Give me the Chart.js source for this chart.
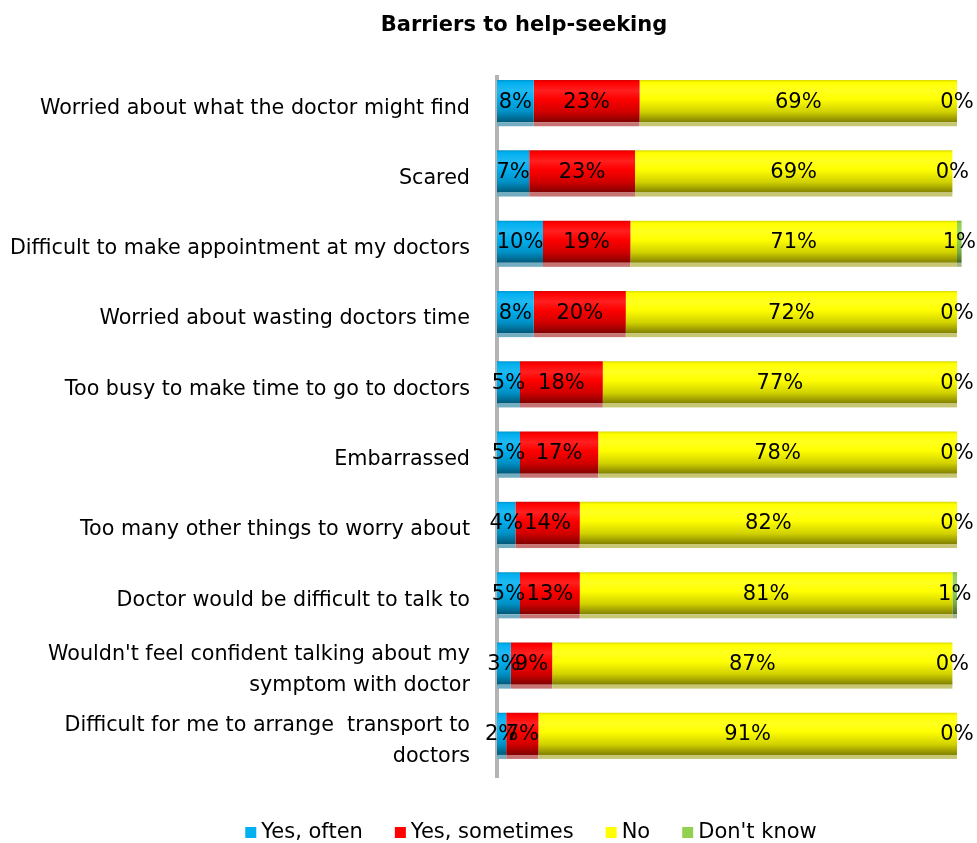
<!DOCTYPE html>
<html>
<head>
<meta charset="utf-8">
<script src="https://cdn.jsdelivr.net/npm/chart.js@4"></script>
<style>
  html, body { margin: 0; padding: 0; background: #fff; }
  #wrap { width: 977px; height: 843px; }
</style>
</head>
<body>
<div id="wrap"><canvas id="chart"></canvas></div>
<script>
const categories = [
  'Worried about what the doctor might find',
  'Scared',
  'Difficult to make appointment at my doctors',
  'Worried about wasting doctors time',
  'Too busy to make time to go to doctors',
  'Embarrassed',
  'Too many other things to worry about',
  'Doctor would be difficult to talk to',
  ["Wouldn't feel confident talking about my", 'symptom with doctor'],
  ['Difficult for me to arrange  transport to', 'doctors'],
];
const yesOften = [8, 7, 10, 8, 5, 5, 4, 5, 3, 2];
const yesSometimes = [23, 23, 19, 20, 18, 17, 14, 13, 9, 7];
const no = [69, 69, 71, 72, 77, 78, 82, 81, 87, 91];
const dontKnow = [0, 0, 1, 0, 0, 0, 0, 1, 0, 0];

const FONT = "'DejaVu Sans', sans-serif";
const BAR_PCT = 0.6;

function shade(rgb, f) {
  return `rgb(${rgb.map(c => Math.round(c * f)).join(',')})`;
}
function tint(rgb, f) {
  return `rgb(${rgb.map(c => Math.round(c + (255 - c) * f)).join(',')})`;
}

// vertical cylinder-style gradient across each bar
function barFill(rgb) {
  return function (ctx) {
    const chart = ctx.chart;
    const y = chart.scales.y;
    if (!chart.chartArea || !y || ctx.dataIndex === undefined) return shade(rgb, 1);
    const cy = y.getPixelForValue(ctx.dataIndex);
    const h = (y.height / categories.length) * BAR_PCT;
    const g = chart.ctx.createLinearGradient(0, cy - h / 2, 0, cy + h / 2);
    g.addColorStop(0, shade(rgb, 0.85));
    g.addColorStop(0.06, shade(rgb, 1));
    g.addColorStop(0.25, tint(rgb, 0.12));
    g.addColorStop(0.45, shade(rgb, 1));
    g.addColorStop(0.75, shade(rgb, 0.82));
    g.addColorStop(1, shade(rgb, 0.5));
    return g;
  };
}

const series = [
  { label: 'Yes, often', data: yesOften, rgb: [0, 176, 240] },
  { label: 'Yes, sometimes', data: yesSometimes, rgb: [255, 0, 0] },
  { label: 'No', data: no, rgb: [255, 255, 0] },
  { label: "Don't know", data: dontKnow, rgb: [146, 208, 80] },
];

// title, axis line, segment labels and legend
const decorations = {
  id: 'decorations',
  beforeDatasetsDraw(chart) {
    const { ctx, chartArea } = chart;
    ctx.save();
    ctx.fillStyle = '#b4b4b4';
    ctx.fillRect(chartArea.left - 2, chartArea.top + 9, 4, chartArea.bottom - chartArea.top);
    ctx.restore();
  },
  afterDatasetsDraw(chart) {
    const { ctx } = chart;
    ctx.save();
    // faint floor shadow under each bar
    chart.data.datasets.forEach((ds, i) => {
      chart.getDatasetMeta(i).data.forEach(bar => {
        const w = bar.x - bar.base;
        if (w <= 0) return;
        ctx.fillStyle = tint(series[i].rgb.map(c => c * 0.6), 0.45);
        ctx.fillRect(bar.base, bar.y + bar.height / 2, w, 4);
      });
    });
    ctx.font = `21px ${FONT}`;
    ctx.fillStyle = '#000';
    ctx.textAlign = 'center';
    ctx.textBaseline = 'middle';
    chart.data.datasets.forEach((ds, i) => {
      chart.getDatasetMeta(i).data.forEach((bar, j) => {
        ctx.fillText(ds.data[j] + '%', (bar.x + bar.base) / 2, bar.y + 1);
      });
    });
    ctx.restore();
  },
  afterDraw(chart) {
    const { ctx } = chart;
    ctx.save();
    ctx.fillStyle = '#000';
    ctx.textBaseline = 'middle';
    ctx.textAlign = 'center';
    ctx.font = `bold 21px ${FONT}`;
    ctx.fillText('Barriers to help-seeking', 524, 26);

    ctx.font = `21px ${FONT}`;
    ctx.textAlign = 'left';
    const box = 11, gap = 5, spacing = 32;
    const widths = series.map(s => box + gap + ctx.measureText(s.label).width);
    const total = widths.reduce((a, b) => a + b, 0) + spacing * (series.length - 1);
    let x = 531 - total / 2;
    const ly = 832;
    series.forEach((s, i) => {
      ctx.fillStyle = shade(s.rgb, 1);
      ctx.fillRect(x, ly - 5, box, box);
      ctx.fillStyle = '#000';
      ctx.fillText(s.label, x + box + gap, ly + 1);
      x += widths[i] + spacing;
    });
    ctx.restore();
  },
};

new Chart(document.getElementById('chart'), {
  type: 'bar',
  data: {
    labels: categories,
    datasets: series.map(s => ({
      label: s.label,
      data: s.data,
      backgroundColor: barFill(s.rgb),
      borderWidth: 0,
      categoryPercentage: 1,
      barPercentage: BAR_PCT,
      clip: false,
    })),
  },
  options: {
    indexAxis: 'y',
    responsive: true,
    maintainAspectRatio: false,
    animation: false,
    layout: { padding: { top: 66, bottom: 74, right: 20, left: 0 } },
    plugins: {
      legend: { display: false },
      title: { display: false },
      tooltip: { enabled: false },
    },
    scales: {
      x: {
        stacked: true,
        min: 0,
        max: 100,
        display: false,
      },
      y: {
        stacked: true,
        grid: { display: false, drawTicks: false },
        border: { display: false },
        afterFit(scale) { scale.width = 497; },
        ticks: {
          color: '#000',
          padding: 27,
          labelOffset: 7,
          font: { family: FONT, size: 20.7, lineHeight: 1.5 },
        },
      },
    },
  },
  plugins: [decorations],
});
</script>
</body>
</html>
